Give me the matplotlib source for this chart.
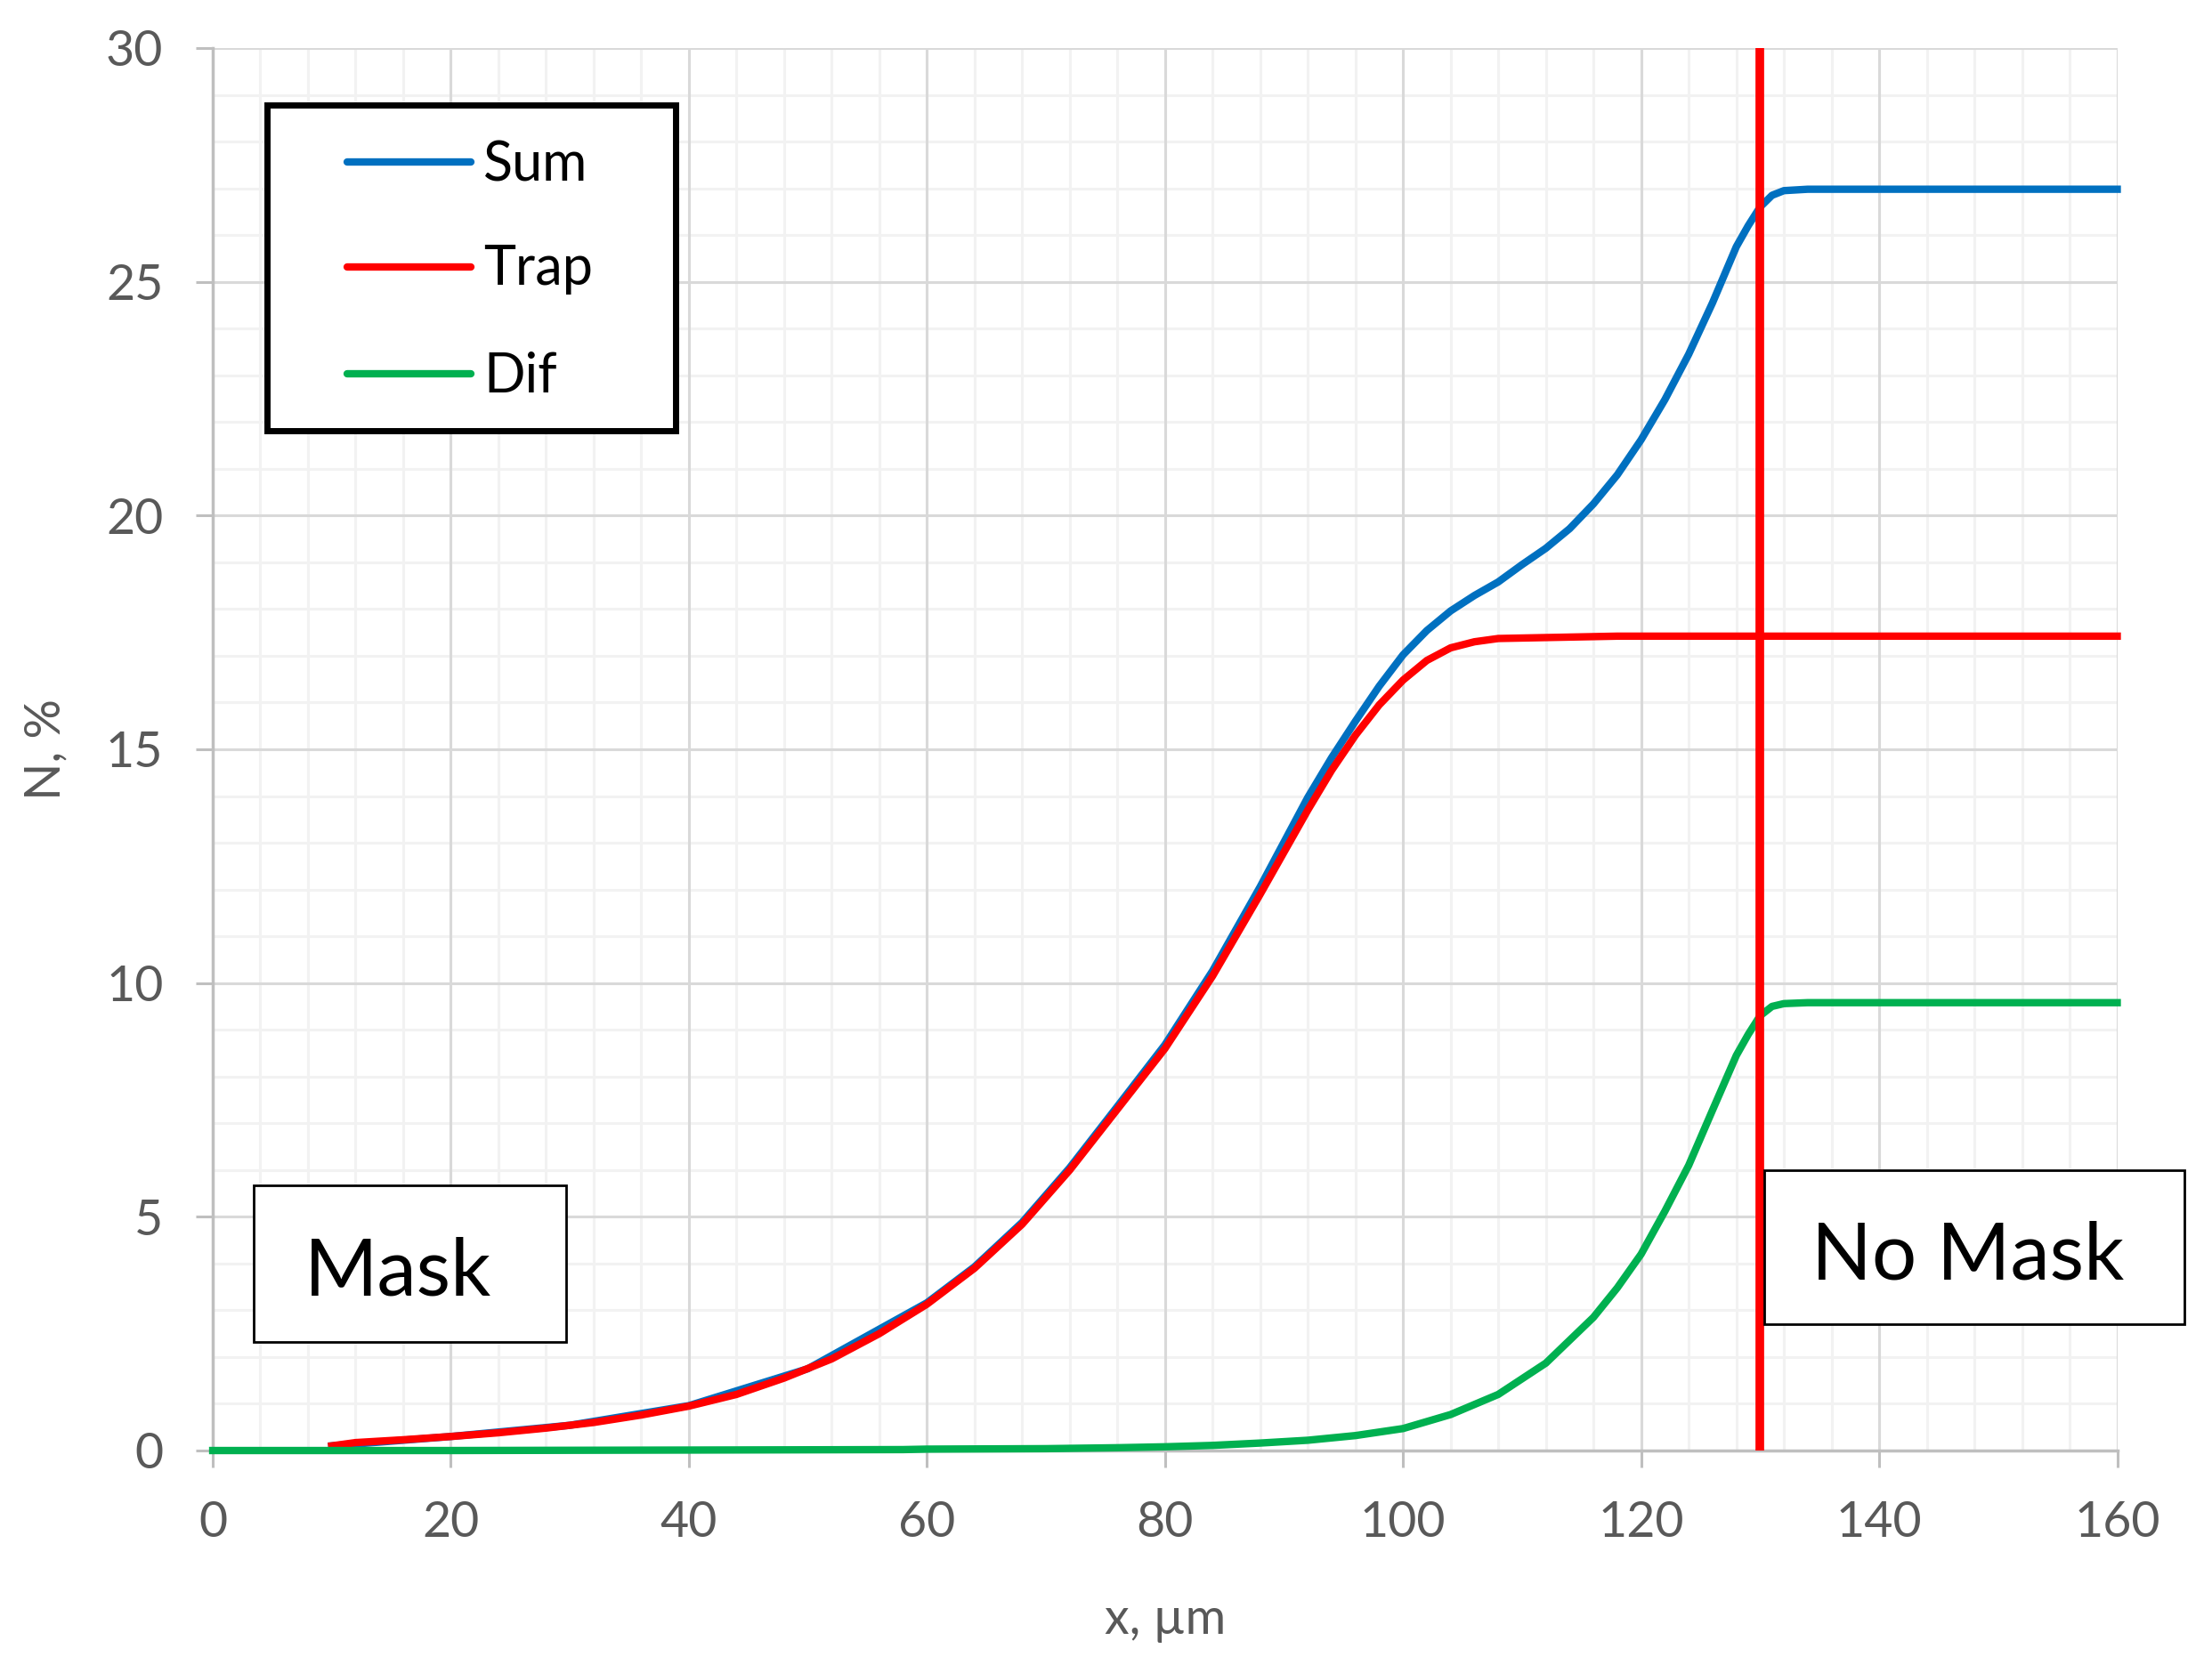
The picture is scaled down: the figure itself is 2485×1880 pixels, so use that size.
import matplotlib
matplotlib.use('Agg')
import matplotlib.pyplot as plt
from matplotlib.lines import Line2D
from matplotlib.patches import Rectangle
from matplotlib.ticker import MultipleLocator

# Values
sum_x = [10, 20, 30, 40, 50, 60, 64, 68, 72, 76, 80, 84, 88, 92, 94, 96, 98,
         100, 102, 104, 106, 108, 110, 112, 114, 116, 118, 120, 122, 124, 126,
         128, 129, 130, 131, 132, 134, 160]
sum_y = [0.10, 0.30, 0.54, 0.96, 1.75, 3.16, 3.93, 4.88, 6.05, 7.36, 8.68,
         10.26, 12.06, 13.97, 14.82, 15.60, 16.35, 17.02, 17.54, 17.96, 18.29,
         18.58, 18.95, 19.30, 19.72, 20.25, 20.87, 21.62, 22.48, 23.45, 24.55,
         25.75, 26.20, 26.60, 26.85, 26.95, 26.98, 26.98]

trap_x = [10, 12, 16, 20, 24, 28, 32, 36, 40, 44, 48, 52, 56, 60, 64, 68, 72,
          76, 80, 84, 88, 92, 94, 96, 98, 100, 102, 104, 106, 108, 112, 118, 160]
trap_y = [0.10, 0.17, 0.23, 0.30, 0.38, 0.48, 0.60, 0.76, 0.95, 1.20, 1.55,
          1.96, 2.50, 3.13, 3.90, 4.84, 6.00, 7.30, 8.60, 10.15, 11.90, 13.70,
          14.55, 15.30, 15.95, 16.48, 16.90, 17.17, 17.30, 17.37, 17.39, 17.42,
          17.42]

dif_x = [0, 20, 40, 58, 60, 70, 76, 80, 84, 88, 92, 96, 100, 104, 108, 112,
         116, 118, 120, 122, 124, 126, 128, 129, 130, 131, 132, 134, 160]
dif_y = [0, 0, 0.01, 0.02, 0.03, 0.04, 0.06, 0.08, 0.11, 0.16, 0.22, 0.32,
         0.47, 0.77, 1.20, 1.87, 2.85, 3.48, 4.20, 5.12, 6.10, 7.28, 8.45,
         8.90, 9.30, 9.50, 9.56, 9.58, 9.58]

mask_edge = 130
series_names = ['Sum', 'Trap', 'Dif']
series_colors = ['#0070C0', '#FF0000', '#00B050']

plt.rcParams['font.family'] = ['Lato', 'DejaVu Sans']

W, H = 2485, 1880


def fx(px):
    return px / W


def fy(py):
    return 1 - py / H


fig = plt.figure(figsize=(W / 100, H / 100), dpi=100)
ax = fig.add_axes([fx(239), fy(1630), fx(2378.5) - fx(239), fy(54) - fy(1630)])

# Series (Trap over Sum, Dif on top, boundary line above all)
ax.plot(sum_x, sum_y, color=series_colors[0], lw=6, zorder=3, clip_on=False)
ax.plot(trap_x, trap_y, color=series_colors[1], lw=6, zorder=4, clip_on=False)
ax.plot(dif_x, dif_y, color=series_colors[2], lw=6, zorder=5, clip_on=False)
ax.axvline(mask_edge, color='#FF0000', lw=7, zorder=6)

# Axes, ticks, grid
ax.set_xlim(0, 160)
ax.set_ylim(0, 30)
ax.xaxis.set_major_locator(MultipleLocator(20))
ax.xaxis.set_minor_locator(MultipleLocator(4))
ax.yaxis.set_major_locator(MultipleLocator(5))
ax.yaxis.set_minor_locator(MultipleLocator(1))
ax.set_axisbelow(True)
ax.grid(which='minor', color='#f2f2f2', lw=2.2)
for t in ax.get_xticks():
    if 0 < t <= 160:
        ax.axvline(t, color='#d9d9d9', lw=2.2, zorder=0.8)
for t in ax.get_yticks():
    if 0 < t <= 30:
        ax.axhline(t, color='#d9d9d9', lw=2.2, zorder=0.8)

ax.tick_params(which='minor', length=0)
ax.tick_params(which='major', length=14, width=2.2, color='#bfbfbf',
               labelsize=40, labelcolor='#595959', pad=26)
for s in ['top', 'right']:
    ax.spines[s].set_visible(False)
for s in ['left', 'bottom']:
    ax.spines[s].set_color('#bfbfbf')
    ax.spines[s].set_linewidth(2.5)

ax.set_xlabel('x, µm', fontsize=40, color='#595959', va='center')
ax.xaxis.set_label_coords(0.5, -(1820 - 1630) / 1576)
ax.set_ylabel('N, %', fontsize=40, color='#595959', va='center')
ax.yaxis.set_label_coords(-(239 - 52) / 2139.5, 0.5)

# Legend box drawn by hand to match the padding of the original
fig.add_artist(Rectangle((fx(300), fy(484)), fx(759) - fx(300), (484 - 118) / H,
                         transform=fig.transFigure, facecolor='white',
                         edgecolor='black', lw=5, zorder=10))
rows = [182, 300, 420]
baselines = [203, 320, 441]
for name, c, r, b in zip(series_names, series_colors, rows, baselines):
    fig.add_artist(Line2D([fx(390), fx(529)], [fy(r), fy(r)],
                          transform=fig.transFigure, color=c, lw=6,
                          solid_capstyle='round', zorder=11))
    fig.text(fx(543), fy(b), name, fontsize=44, color='black',
             va='baseline', ha='left', zorder=12)

# Region labels
fig.add_artist(Rectangle((fx(285), fy(1508)), fx(636) - fx(285), (1508 - 1332) / H,
                         transform=fig.transFigure, facecolor='white',
                         edgecolor='black', lw=2, zorder=10))
fig.text(fx(447), fy(1455), 'Mask', fontsize=64, ha='center', va='baseline',
         zorder=12)
fig.add_artist(Rectangle((fx(1982), fy(1488)), fx(2454) - fx(1982), (1488 - 1315) / H,
                         transform=fig.transFigure, facecolor='white',
                         edgecolor='black', lw=2, zorder=10))
fig.text(fx(2211), fy(1437), 'No Mask', fontsize=64, ha='center', va='baseline',
         zorder=12)

fig.savefig('out.png', dpi=100)
